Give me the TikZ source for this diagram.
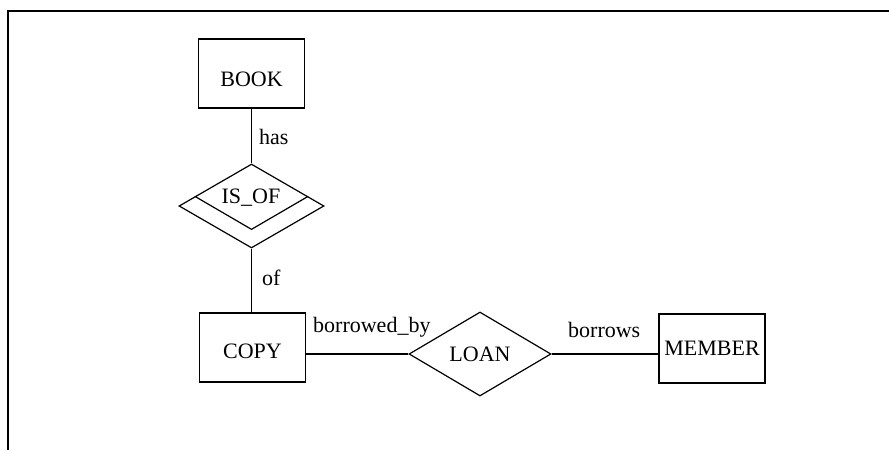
\documentclass[tikz,border=0pt]{standalone}
\usepackage{fontspec}
\setmainfont{Liberation Serif}
\usetikzlibrary{shapes.geometric,calc}
\begin{document}
\begin{tikzpicture}[x=1pt,y=-1pt,
  entity/.style={draw,line width=1.2pt,minimum width=106pt,minimum height=69pt,inner sep=0pt,font=\fontsize{22}{24}\selectfont},
  relation/.style={draw,diamond,line width=1.2pt,inner sep=0pt,font=\fontsize{22}{24}\selectfont},
  role/.style={inner sep=0pt,anchor=base west,font=\fontsize{22}{24}\selectfont},
  link/.style={line width=1.2pt}]
\useasboundingbox (0,0) rectangle (889,450);
% outer frame (top and left edges only)
\draw[line width=1.8pt] (889,11) -- (8,11) -- (8,450);

% entities
\node[entity,text height=26.6pt,text depth=0pt] (book) at (251.5,73.5) {BOOK};
\node[entity,text height=21.6pt,text depth=0pt] (copy) at (252.5,347.5) {COPY};
\node[entity] (member) at (712,348.5) {MEMBER};

% weak relationship IS_OF
\node[relation,minimum width=145pt,minimum height=84pt] (isof) at (251.5,206) {};
\node[inner sep=0pt,anchor=base,font=\fontsize{22}{24}\selectfont] (isoftxt) at (251,203) {IS\_OF};
\coordinate (isofl) at ($(isof.west)!0.226!(isof.north)$);
\coordinate (isofr) at ($(isof.east)!0.226!(isof.north)$);
\coordinate (isofb) at ($(isof.south)!0.226!(isof.north)$);
\draw[line width=1.2pt,line join=miter] (isofl) -- (isofb) -- (isofr);

% relationship LOAN
\node[relation,minimum width=142pt,minimum height=84pt] (loan) at (480,354) {LOAN};

% connectors
\draw[link] (book.south) -- (isof.north);
\draw[link] (isof.south) -- (isof.south |- copy.north);
\draw[link] (loan.west) -- (loan.west -| copy.east);
\draw[link] (loan.east) -- (loan.east -| member.west);

% role names
\node[role] (has) at (259,144) {has};
\node[role] (of) at (262,285) {of};
\node[role] (borrowedby) at (313,332) {borrowed\_by};
\node[role] (borrows) at (568,337) {borrows};
\end{tikzpicture}
\end{document}
